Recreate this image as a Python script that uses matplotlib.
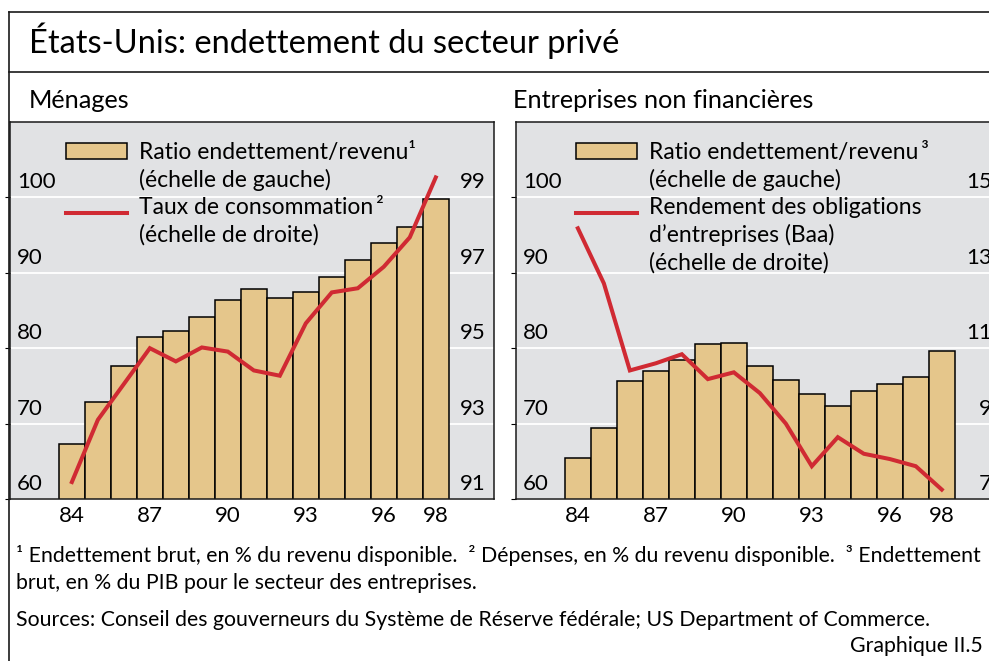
import matplotlib
matplotlib.use("Agg")
import matplotlib.pyplot as plt
from matplotlib.patches import Rectangle
from matplotlib.lines import Line2D
from matplotlib.transforms import offset_copy

plt.rcParams['font.family'] = ['Lato', 'DejaVu Sans']

# --- data ---
years = list(range(84, 99))
year_ticks = [84, 87, 90, 93, 96, 98]
left_ticks = [60, 70, 80, 90, 100]

menages_ratio = [67.3, 72.8, 77.6, 81.5, 82.3, 84.1, 86.4, 87.8, 86.7, 87.5,
                 89.5, 91.7, 94.0, 96.1, 99.8]
menages_conso = [91.45, 93.1, 94.05, 95.0, 94.65, 95.02, 94.91, 94.41, 94.27,
                 95.66, 96.48, 96.59, 97.16, 97.94, 99.53]
menages_right_ticks = [91, 93, 95, 97, 99]

entreprises_ratio = [65.4, 69.4, 75.6, 77.0, 78.5, 80.6, 80.7, 77.6, 75.8, 73.9,
                     72.4, 74.3, 75.3, 76.2, 79.6]
entreprises_baa = [14.18, 12.72, 10.41, 10.60, 10.84, 10.18, 10.36, 9.81, 9.0,
                   7.87, 8.64, 8.2, 8.06, 7.87, 7.25]
entreprises_right_ticks = [7, 9, 11, 13, 15]

W, H = 989, 661
TAN = '#e5c68b'
RED = '#d02a33'
GREY = '#e1e2e4'
INK = '#1a1a1a'
FS = 16        # tick labels
FS_LEG = 16.5  # legend
FS_SUB = 18.2  # panel titles
FS_NOTE = 15.3

fig = plt.figure(figsize=(W / 100, H / 100), dpi=100)


def fx(x):
    return x / W


def fy(y):
    return 1 - y / H


def draw_panel(x0, ratio, line, right_ticks, subtitle, sub_x, leg_x, legend_lines, ratio_label):
    ax = fig.add_axes([fx(x0), fy(499), 484 / W, 377 / H])
    ax.set_facecolor(GREY)
    ax.bar(years, ratio, width=1.0, color=TAN, edgecolor='black', linewidth=1.1, zorder=2)
    ax.set_xlim(81.62, 100.24)
    ax.set_ylim(60, 110)
    ax.set_yticks(left_ticks)
    ax.yaxis.grid(True, color='white', linewidth=1.3)
    ax.set_axisbelow(True)
    ax.tick_params(axis='y', left=False, labelleft=False)
    ax.set_xticks(year_ticks)
    ax.set_xticklabels([str(t) for t in year_ticks])
    ax.tick_params(axis='x', length=0, pad=5, labelsize=FS)
    for s in ax.spines.values():
        s.set_color(INK)
        s.set_linewidth(1.1)

    lab_tr = offset_copy(ax.get_yaxis_transform(), fig=fig, x=5, y=6.5, units='points')
    for v in left_ticks:
        ax.text(0, v, str(v), transform=lab_tr, ha='left', va='baseline', fontsize=FS)

    # right scale: consumption rate / Baa yield
    ax2 = ax.twinx()
    lo = right_ticks[0]
    ax2.set_ylim(lo, lo + 10)
    ax2.plot(years, line, color=RED, linewidth=2.9, solid_joinstyle='miter', zorder=3)
    ax2.set_yticks([])
    for s in ax2.spines.values():
        s.set_visible(False)
    rtr = offset_copy(ax2.get_yaxis_transform(), fig=fig, x=-6, y=6.5, units='points')
    for v in right_ticks:
        ax2.text(1, v, str(v), transform=rtr, ha='right', va='baseline', fontsize=FS)

    fig.text(fx(sub_x), fy(108), subtitle, fontsize=FS_SUB, va='baseline')

    # legend
    fig.add_artist(Rectangle((fx(leg_x), fy(159)), 61 / W, 16 / H, transform=fig.transFigure,
                             facecolor=TAN, edgecolor='black', linewidth=1.1))
    fig.add_artist(Line2D([fx(leg_x), fx(leg_x + 61)], [fy(213), fy(213)],
                          transform=fig.transFigure, color=RED, linewidth=2.9))
    for i, txt in enumerate([ratio_label, '(échelle de gauche)'] + legend_lines):
        fig.text(fx(leg_x + 73), fy(152 + i * 27.6), txt, fontsize=FS_LEG, va='center')
    return ax


draw_panel(10, menages_ratio, menages_conso, menages_right_ticks, 'Ménages', 29, 66,
           ['Taux de consommation\u2009²', '(échelle de droite)'],
           'Ratio endettement/revenu¹')
draw_panel(516, entreprises_ratio, entreprises_baa, entreprises_right_ticks,
           'Entreprises non financières', 513, 576,
           ['Rendement des obligations', 'd\u2019entreprises (Baa)', '(échelle de droite)'],
           'Ratio endettement/revenu\u2009³')

# frame and title
fig.add_artist(Line2D([fx(9), fx(9)], [fy(12), 0], transform=fig.transFigure, color=INK, linewidth=1.2))
fig.add_artist(Line2D([fx(9), 1], [fy(12), fy(12)], transform=fig.transFigure, color=INK, linewidth=1.2))
fig.add_artist(Line2D([fx(9), 1], [fy(72), fy(72)], transform=fig.transFigure, color=INK, linewidth=1.2))
fig.text(fx(29), fy(53), 'États-Unis: endettement du secteur privé', fontsize=23.5, va='baseline')

# footnotes
fig.text(fx(16), fy(555), '¹ Endettement brut, en % du revenu disponible.  ² Dépenses, en % du revenu '
         'disponible.  ³ Endettement', fontsize=FS_NOTE, va='center')
fig.text(fx(16), fy(583), 'brut, en % du PIB pour le secteur des entreprises.', fontsize=FS_NOTE, va='center')
fig.text(fx(16), fy(620), 'Sources: Conseil des gouverneurs du Système de Réserve fédérale; '
         'US Department of Commerce.', fontsize=FS_NOTE, va='center')
fig.text(fx(983), fy(646), 'Graphique II.5', fontsize=FS_NOTE, va='center', ha='right')

fig.savefig('out.png', dpi=100)
